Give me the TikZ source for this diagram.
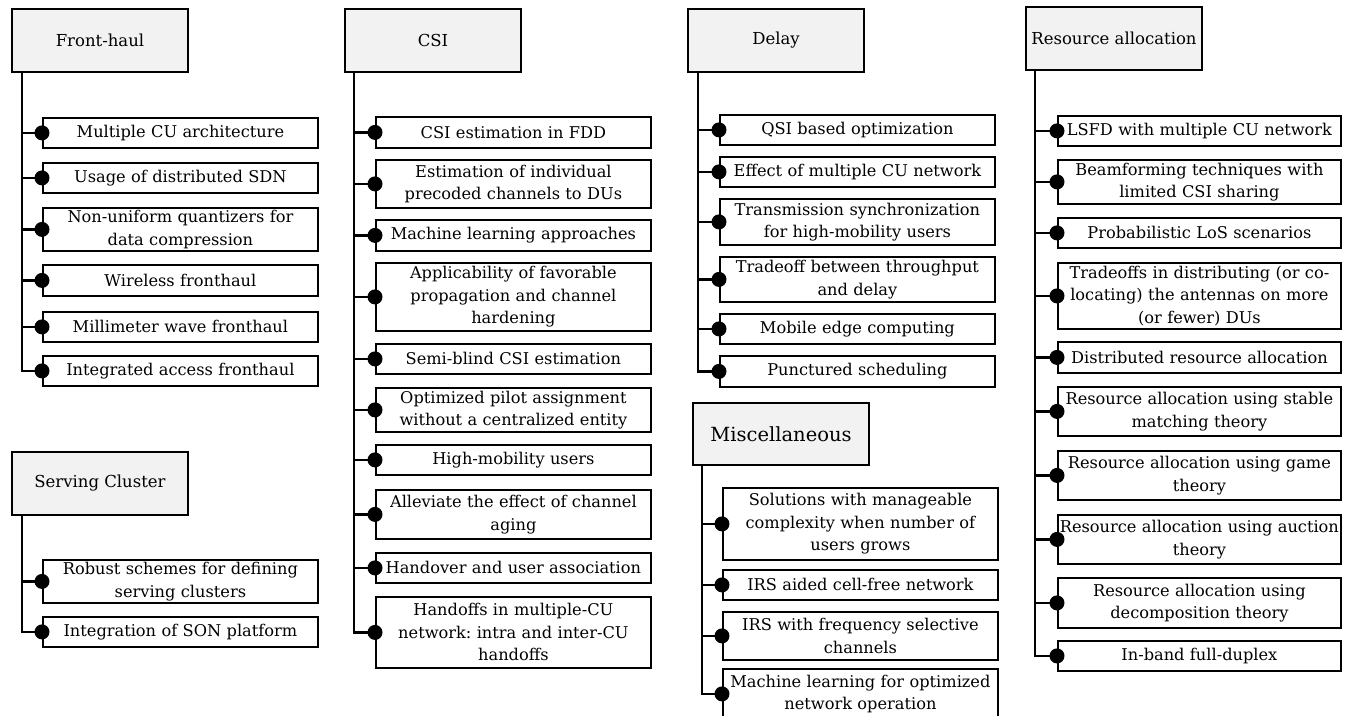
\documentclass[tikz,border=0pt]{standalone}
\usepackage{fontspec}
\setmainfont{DejaVu Serif}
\frenchspacing
\definecolor{hdrfill}{HTML}{F2F2F2}
\begin{document}
\begin{tikzpicture}[x=1pt,y=-1pt,
  hdr/.style={draw, line width=2pt, fill=hdrfill, anchor=north west, inner sep=0pt,
    align=center, minimum width=176pt, font=\fontsize{16.5}{22}\selectfont},
  itm/.style={draw, line width=1.8pt, anchor=north west, inner sep=0pt, align=center,
    text width=#1, font=\fontsize{16.2}{22.5}\selectfont},
  itm/.default=275pt,
  trunk/.style={line width=2.7pt},
  dotr/.style={fill=black}
]
\useasboundingbox (0,0) rectangle (1346,715);
\fill[white] (0,0) rectangle (1346,715);

% ---------------- Front-haul
\node[hdr, minimum height=63pt] (fh) at (11,8) {Front-haul};
\node[itm, minimum height=30pt] (fh1) at (42,117) {Multiple CU architecture};
\node[itm, minimum height=30pt] (fh2) at (42,162) {Usage of distributed SDN};
\node[itm, minimum height=43pt] (fh3) at (42,207) {Non-uniform quantizers for\\data compression};
\node[itm, minimum height=31pt] (fh4) at (42,264) {Wireless fronthaul};
\node[itm, minimum height=30pt] (fh5) at (42,311) {Millimeter wave fronthaul};
\node[itm, minimum height=30pt] (fh6) at (42,355) {Integrated access fronthaul};
\coordinate (fhT) at (22,71);
\draw[trunk] (fhT) |- (fh6.west);
\foreach \i in {1,...,5} \draw[trunk] (fhT |- fh\i.west) -- (fh\i.west);
\foreach \i in {1,...,6} \fill[dotr] (fh\i.west) circle (7.5pt);

% ---------------- Serving Cluster
\node[hdr, minimum height=63pt] (sc) at (11,451) {Serving Cluster};
\node[itm, minimum height=43pt] (sc1) at (42,559) {Robust schemes for defining\\serving clusters};
\node[itm, minimum height=30pt] (sc2) at (42,616) {Integration of SON platform};
\coordinate (scT) at (22,514);
\draw[trunk] (scT) |- (sc2.west);
\draw[trunk] (scT |- sc1.west) -- (sc1.west);
\foreach \i in {1,2} \fill[dotr] (sc\i.west) circle (7.5pt);

% ---------------- CSI
\node[hdr, minimum height=63pt] (csi) at (344,8) {CSI};
\node[itm, minimum height=31pt] (c1) at (375,116) {CSI estimation in FDD};
\node[itm, minimum height=48pt] (c2) at (375,159) {Estimation of individual\\precoded channels to DUs};
\node[itm, minimum height=31pt] (c3) at (375,219) {Machine learning approaches};
\node[itm, minimum height=68pt] (c4) at (375,262) {Applicability of favorable\\propagation and channel\\hardening};
\node[itm, minimum height=30pt] (c5) at (375,343) {Semi-blind CSI estimation};
\node[itm, minimum height=44pt] (c6) at (375,387) {Optimized pilot assignment\\without a centralized entity};
\node[itm, minimum height=30pt] (c7) at (375,444) {High-mobility users};
\node[itm, minimum height=49pt] (c8) at (375,489) {Alleviate the effect of channel\\aging};
\node[itm, minimum height=30pt] (c9) at (375,552) {Handover and user association};
\node[itm, minimum height=71pt] (c10) at (375,596) {Handoffs in multiple-CU\\network: intra and inter-CU\\handoffs};
\coordinate (cT) at (354,71);
\draw[trunk] (cT) |- (c10.west);
\foreach \i in {1,...,9} \draw[trunk] (cT |- c\i.west) -- (c\i.west);
\foreach \i in {1,...,10} \fill[dotr] (c\i.west) circle (7.5pt);

% ---------------- Delay
\node[hdr, minimum height=63pt] (dl) at (687,8) {Delay};
\node[itm, minimum height=30pt] (d1) at (719,114) {QSI based optimization};
\node[itm, minimum height=30pt] (d2) at (719,156) {Effect of multiple CU network};
\node[itm, minimum height=46pt] (d3) at (719,198) {Transmission synchronization\\for high-mobility users};
\node[itm, minimum height=45pt] (d4) at (719,256) {Tradeoff between throughput\\and delay};
\node[itm, minimum height=30pt] (d5) at (719,313) {Mobile edge computing};
\node[itm, minimum height=31pt] (d6) at (719,355) {Punctured scheduling};
\coordinate (dT) at (698,71);
\draw[trunk] (dT) |- (d6.west);
\foreach \i in {1,...,5} \draw[trunk] (dT |- d\i.west) -- (d\i.west);
\foreach \i in {1,...,6} \fill[dotr] (d\i.west) circle (7.5pt);

% ---------------- Miscellaneous
\node[hdr, minimum height=62pt, font=\fontsize{19.5}{22}\selectfont] (ms) at (692,402) {Miscellaneous};
\node[itm, minimum height=72pt] (m1) at (722,487) {Solutions with manageable\\complexity when number of\\users grows};
\node[itm, minimum height=30pt] (m2) at (722,569) {IRS aided cell-free network};
\node[itm, minimum height=48pt] (m3) at (722,611) {IRS with frequency selective\\channels};
\node[itm, minimum height=50pt] (m4) at (722,668) {Machine learning for optimized\\network operation};
\coordinate (mT) at (702,464);
\draw[trunk] (mT) |- (m4.west);
\foreach \i in {1,...,3} \draw[trunk] (mT |- m\i.west) -- (m\i.west);
\foreach \i in {1,...,4} \fill[dotr] (m\i.west) circle (7.5pt);

% ---------------- Resource allocation
\node[hdr, minimum height=63pt] (ra) at (1025,6) {Resource allocation};
\node[itm=283pt, minimum height=30pt] (r1) at (1057,115) {LSFD with multiple CU network};
\node[itm=283pt, minimum height=44pt] (r2) at (1057,159) {Beamforming techniques with\\limited CSI sharing};
\node[itm=283pt, minimum height=30pt] (r3) at (1057,217) {Probabilistic LoS scenarios};
\node[itm=283pt, minimum height=66pt] (r4) at (1057,262) {Tradeoffs in distributing (or co-\\locating) the antennas on more\\(or fewer) DUs};
\node[itm=283pt, minimum height=31pt] (r5) at (1057,341) {Distributed resource allocation};
\node[itm=283pt, minimum height=49pt] (r6) at (1057,386) {Resource allocation using stable\\matching theory};
\node[itm=283pt, minimum height=49pt] (r7) at (1057,450) {Resource allocation using game\\theory};
\node[itm=283pt, minimum height=49pt] (r8) at (1057,514) {Resource allocation using auction\\theory};
\node[itm=283pt, minimum height=50pt] (r9) at (1057,577) {Resource allocation using\\decomposition theory};
\node[itm=283pt, minimum height=30pt] (r10) at (1057,640) {In-band full-duplex};
\coordinate (rT) at (1035,69);
\draw[trunk] (rT) |- (r10.west);
\foreach \i in {1,...,9} \draw[trunk] (rT |- r\i.west) -- (r\i.west);
\foreach \i in {1,...,10} \fill[dotr] (r\i.west) circle (7.5pt);
\end{tikzpicture}
\end{document}
